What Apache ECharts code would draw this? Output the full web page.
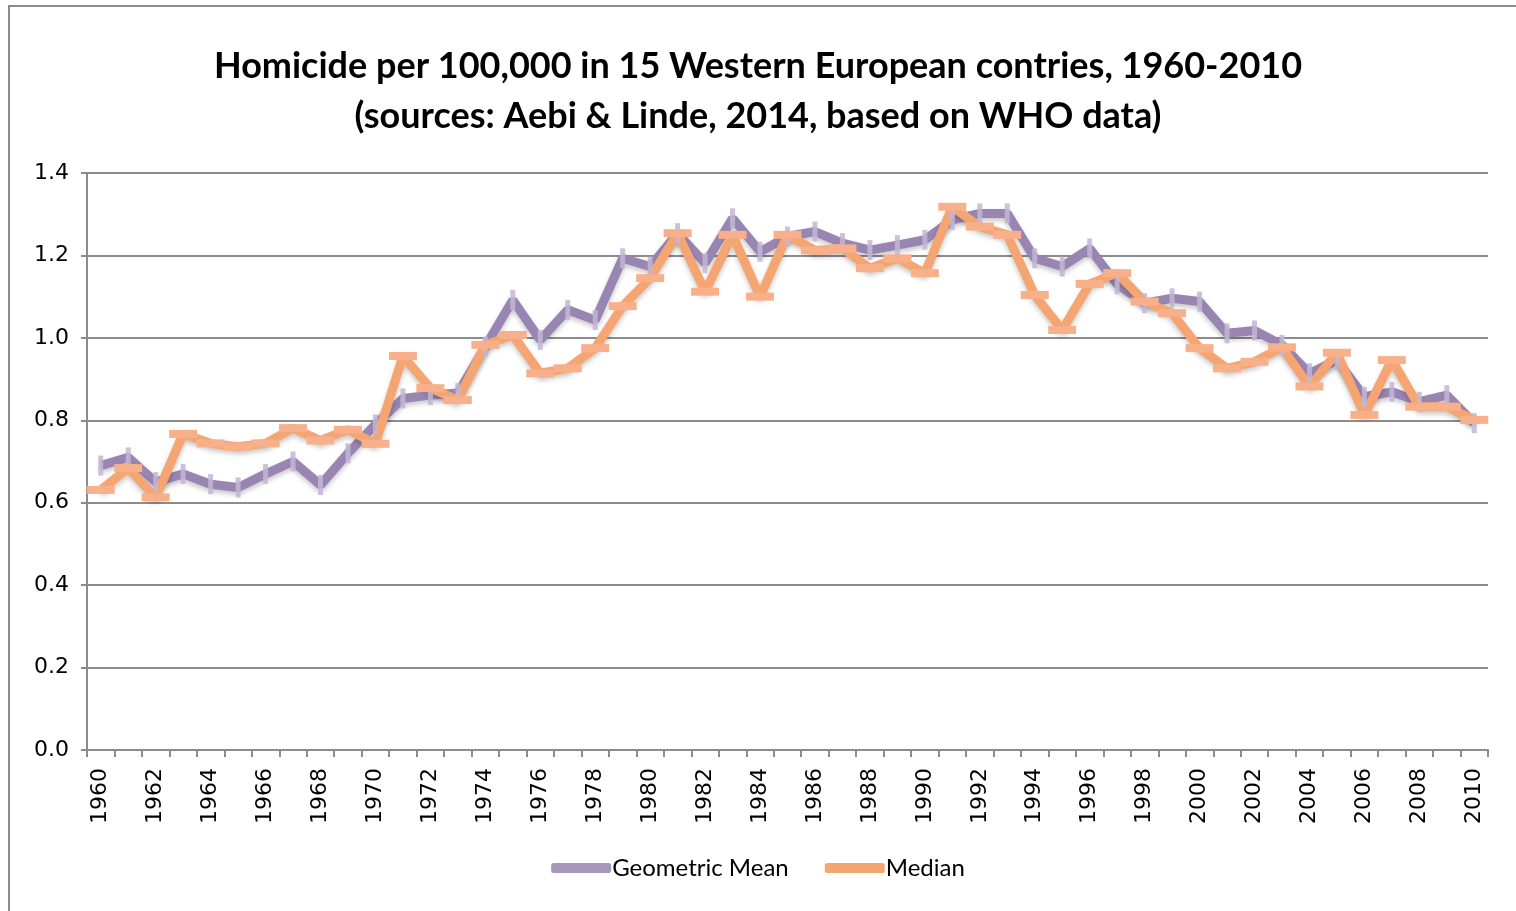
<!DOCTYPE html>
<html>
<head>
    <meta charset="utf-8">
    <title>Homicide per 100,000</title>
    <script src="https://cdn.jsdelivr.net/npm/echarts@6/dist/echarts.min.js"></script>
    <style>
        html, body { margin: 0; padding: 0; background: #fff; }
        #frame {
            position: absolute; left: 8px; top: 5px; width: 1520px; height: 910px;
            border: 2px solid #8c8c8c; box-sizing: border-box;
        }
        #chart { position: absolute; left: 0; top: 0; width: 1516px; height: 911px; }
    </style>
</head>
<body>
<div id="frame"></div>
<div id="chart"></div>
<script type="text/javascript">
    // 年份
    var years = [];
    for (var y = 1960; y <= 2010; y++) years.push(String(y));

    // Geometric Mean
    var geoMean = [
        0.69, 0.71, 0.65, 0.67, 0.645, 0.637, 0.67, 0.70, 0.643, 0.72,
        0.79, 0.853, 0.861, 0.866, 0.979, 1.092, 0.995, 1.068, 1.043, 1.193,
        1.173, 1.254, 1.181, 1.29, 1.209, 1.246, 1.258, 1.23, 1.213, 1.225,
        1.238, 1.286, 1.302, 1.302, 1.193, 1.173, 1.217, 1.13, 1.084, 1.096,
        1.088, 1.011, 1.018, 0.983, 0.914, 0.946, 0.857, 0.869, 0.845, 0.861,
        0.793
    ];

    // Median
    var median = [
        0.631, 0.684, 0.613, 0.767, 0.744, 0.736, 0.744, 0.781, 0.751, 0.777,
        0.743, 0.956, 0.878, 0.849, 0.983, 1.007, 0.914, 0.926, 0.975, 1.077,
        1.145, 1.254, 1.112, 1.25, 1.10, 1.25, 1.212, 1.217, 1.169, 1.193,
        1.157, 1.318, 1.27, 1.25, 1.104, 1.019, 1.131, 1.157, 1.088, 1.06,
        0.975, 0.926, 0.942, 0.977, 0.882, 0.964, 0.813, 0.946, 0.833, 0.833,
        0.801
    ];

    var titleLines = [
        'Homicide per 100,000 in 15 Western European contries, 1960-2010',
        '(sources: Aebi & Linde, 2014, based on WHO data)'
    ];

    var axisFont = '"DejaVu Sans", Verdana, sans-serif';

    var myChart = echarts.init(document.getElementById('chart'));

    myChart.setOption({
        animation: false,
        title: {
            text: titleLines.join('\n'),
            left: 'center',
            top: 36,
            textStyle: {
                fontFamily: 'Lato',
                fontWeight: 'bold',
                fontSize: 36,
                lineHeight: 50,
                color: '#000'
            }
        },
        legend: {
            bottom: 26,
            left: 'center',
            itemWidth: 60,
            itemHeight: 10,
            itemGap: 36,
            icon: 'roundRect',
            textStyle: { fontFamily: 'Lato', fontSize: 24, color: '#000', padding: [0, 0, 0, -4] },
            data: [
                { name: 'Geometric Mean', itemStyle: { color: '#9885b2' } },
                { name: 'Median', itemStyle: { color: '#f5a571' } }
            ]
        },
        grid: { left: 87, right: 28, top: 173, bottom: 161 },
        xAxis: {
            type: 'category',
            data: years,
            boundaryGap: true,
            axisLine: { lineStyle: { color: '#8c8c8c', width: 2 } },
            axisTick: { show: true, interval: 0, length: 7, lineStyle: { color: '#8c8c8c', width: 2 } },
            axisLabel: {
                interval: 1,
                rotate: 90,
                margin: 18,
                fontFamily: axisFont,
                fontSize: 22,
                color: '#000'
            }
        },
        yAxis: {
            type: 'value',
            min: 0,
            max: 1.4,
            interval: 0.2,
            axisLine: { show: true, lineStyle: { color: '#8c8c8c', width: 2 } },
            axisTick: { show: true, length: 6, lineStyle: { color: '#8c8c8c', width: 2 } },
            splitLine: { lineStyle: { color: '#8c8c8c', width: 2 } },
            axisLabel: {
                margin: 18,
                fontFamily: axisFont,
                fontSize: 22,
                color: '#000',
                formatter: function (v) { return v.toFixed(1); }
            }
        },
        series: [
            {
                name: 'Geometric Mean',
                type: 'line',
                data: geoMean,
                symbol: 'rect',
                symbolSize: [5, 20],
                showAllSymbol: true,
                itemStyle: { color: '#c2b6d4', opacity: 0.85 },
                lineStyle: {
                    color: '#9885b2', width: 9,
                    shadowColor: 'rgba(0,0,0,0.22)', shadowBlur: 5, shadowOffsetY: 3
                },
                color: '#9885b2'
            },
            {
                name: 'Median',
                type: 'line',
                data: median,
                symbol: 'rect',
                symbolSize: [28, 8],
                showAllSymbol: true,
                itemStyle: { color: '#f8b08a' },
                lineStyle: {
                    color: '#f5a571', width: 9,
                    shadowColor: 'rgba(0,0,0,0.22)', shadowBlur: 5, shadowOffsetY: 3
                },
                color: '#f5a571'
            }
        ]
    });
</script>
</body>
</html>
